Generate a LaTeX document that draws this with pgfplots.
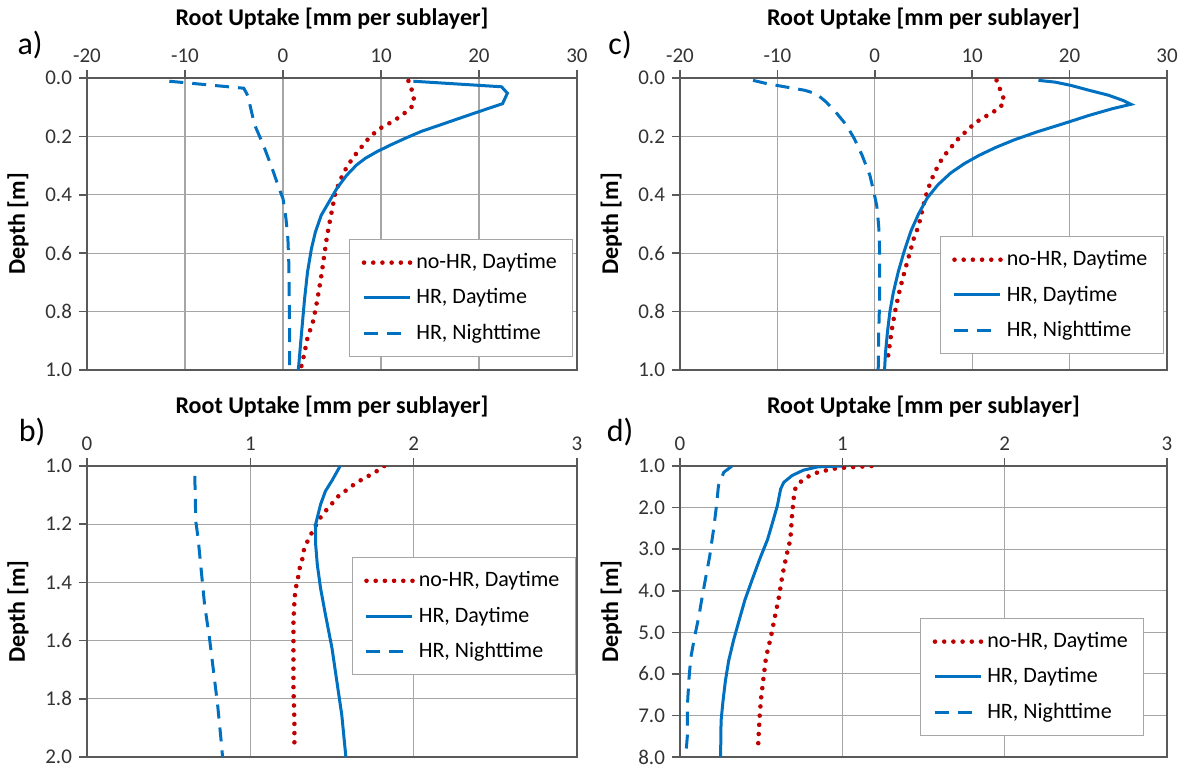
\documentclass[border=0pt]{standalone}
\usepackage{pgfplots}
\pgfplotsset{compat=1.18}
\usepackage{fontspec}
\setmainfont{Carlito}
\definecolor{myred}{HTML}{C00000}
\definecolor{myblue}{HTML}{0070C0}
\tikzset{plab/.style={font=\fontsize{16}{18}\selectfont}}
\pgfplotsset{
  panel/.style={
    scale only axis, width=245pt, height=146pt,
    y dir=reverse, clip mode=individual,
    xticklabel pos=top, xtick pos=upper, ytick pos=left,
    tick align=outside, major tick length=4pt,
    grid=major,
    grid style={black!35, line width=0.6pt},
    axis line style={black!65, line width=1pt},
    tick style={black!65, line width=0.8pt},
    ticklabel style={font=\fontsize{10.5}{12}\selectfont, text=black!80},
    /pgf/number format/assume math mode=true,
    yticklabel style={/pgf/number format/.cd, fixed, fixed zerofill, precision=1},
    xticklabel style={/pgf/number format/.cd, fixed, precision=0},
    xlabel={Root Uptake [mm per sublayer]},
    ylabel={Depth [m]},
    every axis x label/.style={at={(axis description cs:0.5,1.205)}, anchor=center,
      font=\fontsize{12}{14}\selectfont\bfseries},
    every axis y label/.style={at={(axis description cs:-0.141,0.5)}, anchor=center, rotate=90,
      font=\fontsize{12}{14}\selectfont\bfseries},
    legend cell align=left,
    legend style={draw=black!35, line width=0.6pt, fill=white,
      font=\fontsize{11}{13}\selectfont, row sep=4.5pt,
      inner xsep=6pt, inner ysep=5pt, anchor=north west},
    legend image code/.code={\draw[#1] (0pt,0pt) -- (23pt,0pt);},
  },
  nohr/.style={myred, line width=2.3pt, line cap=round, dash pattern=on 0pt off 4.6pt},
  hrday/.style={myblue, line width=1.5pt},
  hrnight/.style={myblue, line width=1.5pt, dash pattern=on 7pt off 4.5pt},
}
\begin{document}
\begin{tikzpicture}
\useasboundingbox (0,0) rectangle (592.5pt,-384pt);
% ---------- a ----------
\begin{axis}[panel, at={(43.5pt,-39pt)}, anchor=north west,
  xmin=-20, xmax=30, xtick={-20,-10,0,10,20,30},
  ymin=0, ymax=1, ytick={0,0.2,0.4,0.6,0.8,1.0},
  legend style={at={(axis description cs:0.535,0.449)}}]
\addplot[nohr] coordinates {(12.8,0.01) (13.2,0.046) (13.4,0.08) (13.1,0.10) (12.2,0.126) (11.2,0.149) (10.2,0.166) (9.4,0.186) (8.6,0.212) (7.9,0.241) (7.3,0.266) (6.7,0.295) (6.2,0.323) (5.7,0.361) (5.3,0.40) (4.9,0.47) (4.5,0.54) (4.2,0.61) (3.9,0.68) (3.5,0.76) (3.1,0.83) (2.5,0.89) (2.2,0.94) (2.0,0.97) (1.85,0.99)};
\addlegendentry{no-HR, Daytime}
\addplot[hrday] coordinates {(13.3,0.011) (22.3,0.03) (22.9,0.052) (22.4,0.088) (20.0,0.115) (18.0,0.138) (16.1,0.16) (14.1,0.183) (12.5,0.206) (11.0,0.229) (9.6,0.252) (8.4,0.275) (7.5,0.298) (6.5,0.333) (5.5,0.378) (4.7,0.424) (3.9,0.47) (3.3,0.528) (2.9,0.585) (2.5,0.665) (2.2,0.757) (1.9,0.87) (1.6,0.986) (1.55,1.0)};
\addlegendentry{HR, Daytime}
\addplot[hrnight] coordinates {(-11.6,0.011) (-4.0,0.035) (-3.6,0.06) (-2.9,0.16) (-2.0,0.23) (-1.1,0.31) (-0.4,0.378) (0,0.413) (0.3,0.48) (0.5,0.55) (0.6,0.64) (0.67,0.87) (0.67,1.0)};
\addlegendentry{HR, Nighttime}
\node[plab] at (axis description cs:-0.116,1.113) {a)};
\end{axis}
% ---------- c ----------
\begin{axis}[panel, width=243.5pt, at={(340pt,-39pt)}, anchor=north west,
  xmin=-20, xmax=30, xtick={-20,-10,0,10,20,30},
  ymin=0, ymax=1, ytick={0,0.2,0.4,0.6,0.8,1.0},
  legend style={at={(axis description cs:0.533,0.459)}}]
\addplot[nohr] coordinates {(12.5,0.008) (12.9,0.042) (13.3,0.077) (12.9,0.10) (11.9,0.122) (10.9,0.14) (10.1,0.16) (9.3,0.185) (8.4,0.214) (7.7,0.243) (7.0,0.271) (6.5,0.30) (6.0,0.334) (5.6,0.368) (5.2,0.408) (4.9,0.449) (4.5,0.506) (4.0,0.55) (3.5,0.61) (3.0,0.67) (2.6,0.72) (2.2,0.78) (1.8,0.85) (1.5,0.92) (1.25,0.98)};
\addlegendentry{no-HR, Daytime}
\addplot[hrday] coordinates {(16.8,0.008) (18.5,0.014) (20.1,0.025) (22.0,0.042) (24.0,0.059) (25.5,0.077) (26.3,0.09) (24.4,0.105) (22.0,0.128) (19.3,0.157) (16.6,0.185) (14.3,0.212) (12.4,0.238) (10.7,0.265) (9.2,0.293) (7.8,0.325) (6.5,0.365) (5.4,0.41) (4.5,0.465) (3.7,0.525) (3.0,0.595) (2.4,0.665) (1.9,0.735) (1.55,0.8) (1.3,0.87) (1.1,0.94) (1.0,1.0)};
\addlegendentry{HR, Daytime}
\addplot[hrnight] coordinates {(-12.5,0.008) (-11.1,0.019) (-9.1,0.031) (-7.2,0.042) (-6.0,0.054) (-5.0,0.082) (-4.0,0.117) (-2.9,0.162) (-2.1,0.208) (-1.3,0.265) (-0.5,0.334) (-0.1,0.391) (0.2,0.437) (0.4,0.506) (0.5,0.597) (0.5,0.757) (0.4,0.872) (0.35,1.0)};
\addlegendentry{HR, Nighttime}
\node[plab] at (axis description cs:-0.123,1.113) {c)};
\end{axis}
% ---------- b ----------
\begin{axis}[panel, height=145.5pt, at={(43.5pt,-233pt)}, anchor=north west,
  xmin=0, xmax=3, xtick={0,1,2,3},
  ymin=1, ymax=2, ytick={1.0,1.2,1.4,1.6,1.8,2.0},
  legend style={at={(axis description cs:0.54,0.687)}}]
\addplot[nohr] coordinates {(1.82,1.0) (1.76,1.023) (1.71,1.038) (1.65,1.057) (1.60,1.078) (1.54,1.103) (1.50,1.129) (1.46,1.155) (1.42,1.184) (1.39,1.215) (1.36,1.247) (1.33,1.282) (1.32,1.316) (1.30,1.356) (1.29,1.391) (1.276,1.425) (1.27,1.466) (1.264,1.534) (1.264,1.649) (1.264,1.764) (1.27,1.879) (1.27,1.966)};
\addlegendentry{no-HR, Daytime}
\addplot[hrday] coordinates {(1.55,1.0) (1.50,1.05) (1.46,1.086) (1.43,1.132) (1.40,1.20) (1.40,1.27) (1.41,1.339) (1.43,1.42) (1.46,1.511) (1.50,1.626) (1.53,1.741) (1.56,1.856) (1.585,2.0)};
\addlegendentry{HR, Daytime}
\addplot[hrnight] coordinates {(0.66,1.034) (0.666,1.19) (0.68,1.247) (0.70,1.362) (0.72,1.477) (0.75,1.592) (0.775,1.707) (0.80,1.822) (0.82,1.937) (0.83,2.0)};
\addlegendentry{HR, Nighttime}
\node[plab] at (axis description cs:-0.112,1.117) {b)};
\end{axis}
% ---------- d ----------
\begin{axis}[panel, width=243.5pt, height=145.5pt, at={(340pt,-233pt)}, anchor=north west,
  xmin=0, xmax=3, xtick={0,1,2,3},
  ymin=1, ymax=8, ytick={1,2,3,4,5,6,7,8},
  legend style={at={(axis description cs:0.493,0.478)}}]
\addplot[nohr] coordinates {(1.18,1.0) (1.04,1.03) (0.945,1.065) (0.85,1.15) (0.78,1.27) (0.74,1.39) (0.71,1.55) (0.70,1.79) (0.69,2.2) (0.68,2.76) (0.655,3.17) (0.63,3.65) (0.61,4.14) (0.585,4.62) (0.56,5.11) (0.53,5.6) (0.515,6.08) (0.5,6.57) (0.49,7.05) (0.48,7.82)};
\addlegendentry{no-HR, Daytime}
\addplot[hrday] coordinates {(1.0,1.0) (0.85,1.02) (0.76,1.1) (0.69,1.23) (0.64,1.39) (0.62,1.55) (0.60,1.95) (0.57,2.36) (0.54,2.76) (0.49,3.25) (0.445,3.73) (0.40,4.22) (0.365,4.7) (0.33,5.19) (0.30,5.68) (0.28,6.16) (0.265,6.65) (0.253,7.13) (0.25,8.0)};
\addlegendentry{HR, Daytime}
\addplot[hrnight] coordinates {(0.32,1.0) (0.27,1.15) (0.237,1.47) (0.225,1.95) (0.207,2.52) (0.183,3.17) (0.16,3.65) (0.137,4.14) (0.116,4.62) (0.09,5.11) (0.067,5.6) (0.056,6.08) (0.046,6.73) (0.046,7.46) (0.035,8.0)};
\addlegendentry{HR, Nighttime}
\node[plab] at (axis description cs:-0.123,1.117) {d)};
\end{axis}
\end{tikzpicture}
\end{document}
